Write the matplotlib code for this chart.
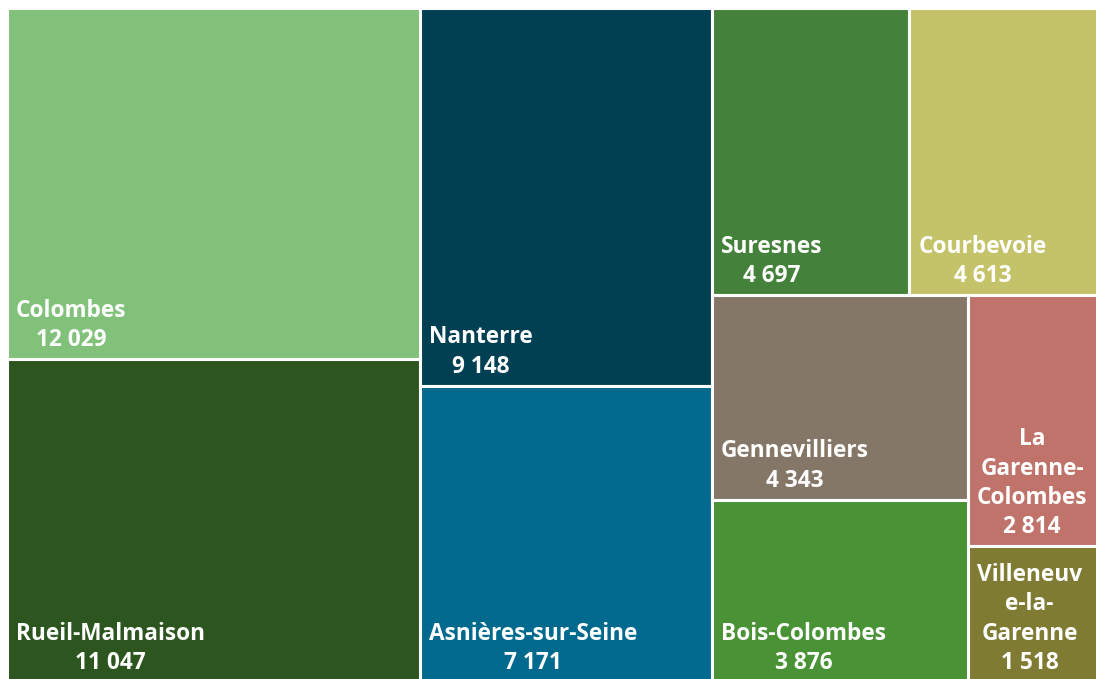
import matplotlib.pyplot as plt
from matplotlib.patches import Rectangle

# données
communes = ["Colombes", "Rueil-Malmaison", "Nanterre", "Asnières-sur-Seine",
            "Suresnes", "Courbevoie", "Gennevilliers", "Bois-Colombes",
            "La\nGarenne-\nColombes", "Villeneuv\ne-la-\nGarenne"]
valeurs = [12029, 11047, 9148, 7171, 4697, 4613, 4343, 3876, 2814, 1518]
couleurs = ["#82C17A", "#2C5520", "#004052", "#006A8E", "#44823C",
            "#C5C36A", "#857767", "#4A9236", "#C0736B", "#7F7B33"]


# algorithme "squarified" classique
def layoutrow(sizes, x, y, dx, dy):
    w = sum(sizes) / dy
    rects = []
    for s in sizes:
        rects.append((x, y, w, s / w))
        y += s / w
    return rects


def layoutcol(sizes, x, y, dx, dy):
    h = sum(sizes) / dx
    rects = []
    for s in sizes:
        rects.append((x, y, s / h, h))
        x += s / h
    return rects


def layout(sizes, x, y, dx, dy):
    if dx >= dy:
        return layoutrow(sizes, x, y, dx, dy)
    return layoutcol(sizes, x, y, dx, dy)


def leftover(sizes, x, y, dx, dy):
    if dx >= dy:
        w = sum(sizes) / dy
        return x + w, y, dx - w, dy
    h = sum(sizes) / dx
    return x, y + h, dx, dy - h


def worst(sizes, x, y, dx, dy):
    return max(max(r[2] / r[3], r[3] / r[2]) for r in layout(sizes, x, y, dx, dy))


def squarify(sizes, x, y, dx, dy):
    if len(sizes) == 0:
        return []
    if len(sizes) == 1:
        return layout(sizes, x, y, dx, dy)
    i = 1
    while i < len(sizes) and worst(sizes[:i], x, y, dx, dy) >= worst(sizes[:i + 1], x, y, dx, dy):
        i += 1
    cur, rest = sizes[:i], sizes[i:]
    return layout(cur, x, y, dx, dy) + squarify(rest, *leftover(cur, x, y, dx, dy))


W, H = 1096.0, 674.0
total = sum(valeurs)
norm = [v * W * H / total for v in valeurs]
rects = squarify(norm, 0, 0, W, H)

fig = plt.figure(figsize=(10.96, 6.79), dpi=100)
ax = fig.add_axes([7 / 1096, 1 - (8 + H) / 679, W / 1096, H / 679])
ax.set_xlim(0, W)
ax.set_ylim(H, 0)
ax.axis("off")

for (x, y, dx, dy), nom, val, c in zip(rects, communes, valeurs, couleurs):
    ax.add_patch(Rectangle((x, y), dx, dy, facecolor=c, edgecolor="white", linewidth=2.2))
    txt = nom + "\n" + f"{val:,}".replace(",", " ")
    ax.annotate(txt, xy=(x, y + dy), xytext=(9, 7), textcoords="offset pixels",
                ha="left", va="bottom", multialignment="center", color="white",
                fontsize=16.3, fontweight="bold", family="Open Sans", linespacing=1.3)

fig.savefig("out.png", dpi=100)
